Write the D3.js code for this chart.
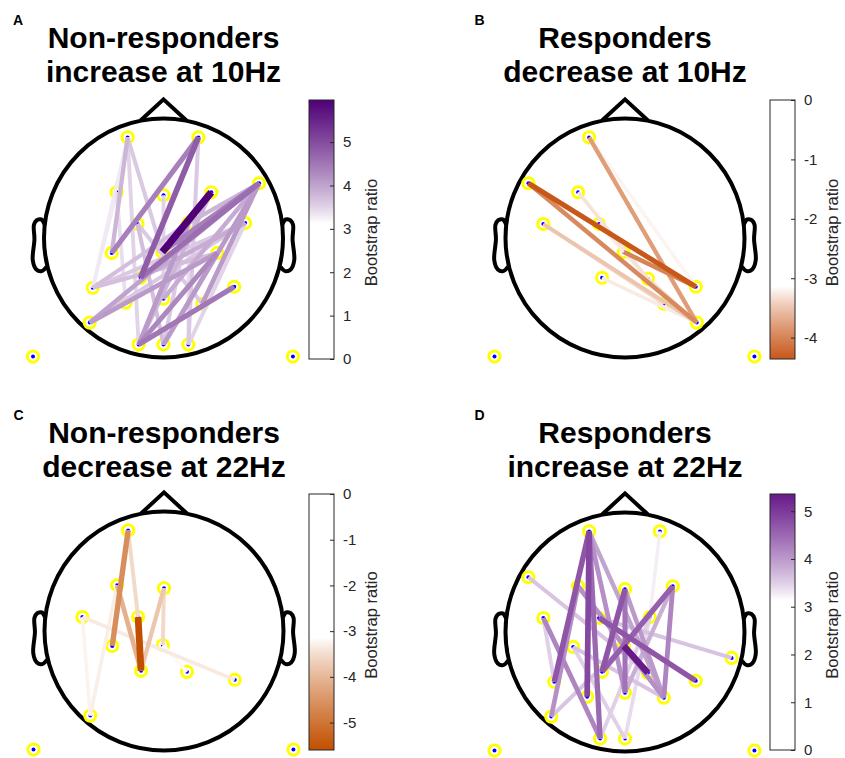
<!DOCTYPE html>
<html>
<head>
<meta charset="utf-8">
<script src="https://cdn.jsdelivr.net/npm/d3@7"></script>
<style>
  body { margin: 0; background: #fff; }
  svg { display: block; }
  text { font-family: "Liberation Sans", Arial, Helvetica, sans-serif; }
</style>
</head>
<body>
<svg id="chart" width="845" height="758"></svg>
<script>
'use strict';

// electrode layout, in head radii (x right, y down), head centre = 0,0
var electrodeNames = ['Fp1', 'Fp2', 'F7', 'F3', 'Fz', 'F4', 'F8', 'FC5', 'FC1', 'FC2', 'FC6',
    'C3', 'Cz', 'C4', 'T8', 'CP5', 'CP1', 'CP2', 'CP6', 'P7', 'P3', 'Pz', 'P4', 'P8',
    'O1', 'Oz', 'O2', 'TP9', 'TP10'];
var electrodeX = [-0.300, 0.292, -0.808, -0.392, 0.000, 0.400, 0.800, -0.683, -0.217, 0.208, 0.683,
    -0.433, -0.010, 0.450, 0.892, -0.592, -0.192, 0.192, 0.592, -0.617, -0.317, 0.000, 0.325, 0.600,
    -0.208, 0.000, 0.208, -1.092, 1.083];
var electrodeY = [-0.842, -0.842, -0.458, -0.383, -0.358, -0.383, -0.458, -0.117, -0.117, -0.125, -0.125,
    0.125, 0.117, 0.125, 0.217, 0.417, 0.333, 0.342, 0.408, 0.708, 0.542, 0.508, 0.550, 0.708,
    0.892, 0.892, 0.892, 0.992, 0.992];
var refElectrodes = ['TP9', 'TP10'];

// connections: [from, to, bootstrap ratio]
var edgesA = [
    ['F4', 'Cz', 5.97], ['Fp2', 'CP1', 4.8], ['Fp2', 'C3', 4.4], ['Fp2', 'O2', 3.6],
    ['Fp1', 'C3', 3.8], ['Fp1', 'Cz', 3.6], ['Fp1', 'CP5', 3.3], ['Fp1', 'O1', 3.5],
    ['F8', 'CP1', 4.6], ['F8', 'Cz', 4.4], ['F8', 'FC2', 3.8], ['F8', 'P4', 4.1], ['F8', 'Oz', 4.1],
    ['CP6', 'O1', 4.5], ['C4', 'P7', 4.1], ['C4', 'O1', 4.3], ['C4', 'Oz', 3.9],
    ['FC6', 'CP5', 3.6], ['FC6', 'O2', 3.5], ['FC2', 'O1', 4.1], ['FC2', 'Oz', 3.6], ['FC2', 'O2', 3.4],
    ['P7', 'F8', 4.0], ['CP5', 'FC2', 3.7], ['CP5', 'F3', 3.3], ['F3', 'P3', 3.4],
    ['Fz', 'Pz', 3.5], ['P3', 'C4', 3.6], ['P4', 'FC1', 3.6], ['FC1', 'Oz', 3.7],
    ['CP5', 'C4', 3.7], ['P7', 'FC6', 3.6], ['CP1', 'FC6', 3.9], ['Pz', 'F8', 3.9], ['O1', 'F4', 3.8]
];
var edgesB = [
    ['F7', 'CP6', -4.36], ['F7', 'P8', -3.95], ['Fp1', 'P8', -3.8], ['Cz', 'CP6', -4.0],
    ['FC5', 'P8', -3.5], ['FC5', 'P4', -3.35], ['F3', 'CP2', -3.3], ['Fp1', 'CP6', -3.2],
    ['CP1', 'P8', -3.25], ['FC1', 'CP2', -3.25], ['CP2', 'P8', -3.35]
];
var edgesC = [
    ['FC1', 'CP1', -5.6], ['Fp1', 'C3', -4.6], ['F3', 'CP1', -4.1], ['Fz', 'CP1', -3.8],
    ['Fz', 'Cz', -3.55], ['Fp1', 'FC1', -3.55], ['FC5', 'CP6', -3.35], ['FC5', 'P7', -3.25],
    ['F3', 'P7', -3.3], ['CP2', 'Cz', -3.2]
];
var edgesD = [
    ['Cz', 'CP2', 5.36], ['Fp1', 'P3', 4.85], ['Fp1', 'CP5', 4.7], ['Fp1', 'O1', 4.5],
    ['Fp1', 'Pz', 4.1], ['Fp1', 'P4', 3.9], ['Fz', 'CP1', 4.7], ['Fz', 'Pz', 4.4], ['Fz', 'P4', 4.0],
    ['F4', 'CP1', 4.6], ['F4', 'P4', 4.2], ['F4', 'Pz', 3.8], ['FC1', 'CP6', 4.7], ['FC5', 'O1', 4.2],
    ['FC5', 'CP5', 3.5], ['F7', 'CP2', 3.6], ['T8', 'FC1', 3.6], ['Fp2', 'FC2', 3.25], ['F3', 'P4', 4.1],
    ['P7', 'Cz', 3.6], ['O1', 'FC2', 3.5], ['Oz', 'FC2', 3.4], ['Oz', 'C3', 3.5], ['C3', 'P4', 3.6],
    ['P7', 'F3', 4.1]
];

var titlesA = ['Non-responders', 'increase at 10Hz'];
var titlesB = ['Responders', 'decrease at 10Hz'];
var titlesC = ['Non-responders', 'decrease at 22Hz'];
var titlesD = ['Responders', 'increase at 22Hz'];

var ticksA = [0, 1, 2, 3, 4, 5];
var ticksB = [0, -1, -2, -3, -4];
var ticksC = [0, -1, -2, -3, -4, -5];
var ticksD = [0, 1, 2, 3, 4, 5];

var threshold = 3.15;
var colorbarLabel = 'Bootstrap ratio';

// head outline (EEGLAB style), in head radii
var earX = [0.994, 1.020, 1.036, 1.060, 1.084, 1.080, 1.094, 1.064, 1.020, 0.978];
var earY = [-0.111, -0.155, -0.157, -0.149, -0.111, 0.011, 0.186, 0.263, 0.277, 0.240];
var noseX = [-0.19, 0, 0.19];
var noseY = [-0.985, -1.16, -0.985];

var panels = [
    { letter: 'A', titles: titlesA, edges: edgesA, ticks: ticksA, cx: 163.5, cy: 238, top: 0,
      cbX: 309, cbTop: 100, cbBottom: 359, endColor: '#4f0076' },
    { letter: 'B', titles: titlesB, edges: edgesB, ticks: ticksB, cx: 625, cy: 238, top: 0,
      cbX: 770, cbTop: 100, cbBottom: 359, endColor: '#c8581a' },
    { letter: 'C', titles: titlesC, edges: edgesC, ticks: ticksC, cx: 164, cy: 631, top: 395,
      cbX: 309, cbTop: 494, cbBottom: 750, endColor: '#c24f00' },
    { letter: 'D', titles: titlesD, edges: edgesD, ticks: ticksD, cx: 625, cy: 632, top: 395,
      cbX: 770, cbTop: 494, cbBottom: 750, endColor: '#671a8a' }
];

var headR = 119.5;
var svg = d3.select('#chart');
var defs = svg.append('defs');

function electrode(name) {
    var i = electrodeNames.indexOf(name);
    return { name: name, x: electrodeX[i], y: electrodeY[i] };
}

var widthScale = d3.scaleLinear().domain([3, 6]).range([3.2, 7.3]).clamp(true);

panels.forEach(function (p, pi) {
    var g = svg.append('g');
    var x = d3.scaleLinear().domain([-1, 1]).range([p.cx - headR, p.cx + headR]);
    var y = d3.scaleLinear().domain([-1, 1]).range([p.cy - headR, p.cy + headR]);

    var values = p.edges.map(function (e) { return e[2]; });
    var negative = d3.min(values) < 0;
    var extreme = negative ? d3.min(values) : d3.max(values);
    var maxAbs = Math.abs(extreme);
    var tScale = d3.scaleLinear().domain([threshold, maxAbs]).range([0, 1]).clamp(true);
    var interp = d3.interpolateRgb('#ffffff', p.endColor);
    function color(v) {
        var a = Math.abs(v);
        return a < threshold ? '#ffffff' : interp(Math.pow(tScale(a), 0.85));
    }

    // panel letter and title
    g.append('text')
        .attr('x', p.cx - 150.5)
        .attr('y', p.top + 25)
        .attr('font-size', 14)
        .attr('font-weight', 'bold')
        .text(p.letter);
    g.selectAll('text.title').data(p.titles).enter().append('text')
        .attr('class', 'title')
        .attr('x', p.cx)
        .attr('y', function (d, i) { return p.top + 48 + i * 34; })
        .attr('text-anchor', 'middle')
        .attr('font-size', 30)
        .attr('font-weight', 'bold')
        .text(function (d) { return d; });

    // head
    var line = d3.line().x(function (d) { return x(d[0]); }).y(function (d) { return y(d[1]); });
    var earPts = earX.map(function (v, i) { return [v, earY[i]]; });
    var head = g.append('g')
        .attr('fill', 'none')
        .attr('stroke', '#000')
        .attr('stroke-width', 4);
    head.append('circle').attr('cx', x(0)).attr('cy', y(0)).attr('r', headR);
    head.append('path').attr('d', line.curve(d3.curveCatmullRom)(earPts));
    head.append('path').attr('d', line(earPts.map(function (d) { return [-d[0], d[1]]; })));
    head.append('path')
        .attr('stroke-linejoin', 'miter')
        .attr('d', line.curve(d3.curveLinear)(noseX.map(function (v, i) { return [v, noseY[i]]; })));

    // electrodes in use
    var used = [];
    p.edges.forEach(function (e) {
        if (used.indexOf(e[0]) < 0) used.push(e[0]);
        if (used.indexOf(e[1]) < 0) used.push(e[1]);
    });
    refElectrodes.forEach(function (n) { if (used.indexOf(n) < 0) used.push(n); });
    var nodes = used.map(electrode);

    var nodeG = g.append('g').selectAll('g').data(nodes).enter().append('g')
        .attr('transform', function (d) { return 'translate(' + x(d.x) + ',' + y(d.y) + ')'; });
    nodeG.append('circle')
        .attr('r', 5.6)
        .attr('fill', '#fff')
        .attr('stroke', '#ffff00')
        .attr('stroke-width', 3);
    nodeG.append('circle')
        .attr('r', 2)
        .attr('fill', '#0000ff');

    // connections, weakest first
    var edges = p.edges.slice().sort(function (a, b) { return Math.abs(a[2]) - Math.abs(b[2]); });
    g.append('g').selectAll('line').data(edges).enter().append('line')
        .attr('x1', function (d) { return x(electrode(d[0]).x); })
        .attr('y1', function (d) { return y(electrode(d[0]).y); })
        .attr('x2', function (d) { return x(electrode(d[1]).x); })
        .attr('y2', function (d) { return y(electrode(d[1]).y); })
        .attr('stroke', function (d) { return color(d[2]); })
        .attr('stroke-width', function (d) { return widthScale(Math.abs(d[2])); })
        .attr('stroke-linecap', 'butt');

    // colour bar
    var domain = negative ? [extreme, 0] : [0, extreme];
    var cbY = d3.scaleLinear().domain(domain).range([p.cbBottom, p.cbTop]);
    var gradId = 'grad' + pi;
    var grad = defs.append('linearGradient')
        .attr('id', gradId)
        .attr('x1', 0).attr('y1', 1).attr('x2', 0).attr('y2', 0);
    grad.selectAll('stop').data(d3.range(0, 1.0001, 0.01)).enter().append('stop')
        .attr('offset', function (o) { return o; })
        .attr('stop-color', function (o) { return color(domain[0] + (domain[1] - domain[0]) * o); });
    var cbW = 25;
    g.append('rect')
        .attr('x', p.cbX).attr('y', p.cbTop)
        .attr('width', cbW).attr('height', p.cbBottom - p.cbTop)
        .attr('fill', 'url(#' + gradId + ')')
        .attr('stroke', '#262626')
        .attr('stroke-width', 1);
    var axis = d3.axisRight(cbY)
        .tickValues(p.ticks)
        .tickSize(-4)
        .tickPadding(9)
        .tickFormat(function (d) { return String(d); });
    var ag = g.append('g')
        .attr('transform', 'translate(' + (p.cbX + cbW) + ',0)')
        .call(axis);
    ag.select('.domain').remove();
    ag.selectAll('line').attr('stroke', '#262626');
    ag.selectAll('text')
        .attr('fill', '#262626')
        .attr('font-size', 15)
        .attr('font-family', '"Liberation Sans", Arial, sans-serif');
    g.append('text')
        .attr('transform', 'translate(' + (p.cbX + cbW + 43) + ',' + ((p.cbTop + p.cbBottom) / 2 + 3) + ') rotate(-90)')
        .attr('text-anchor', 'middle')
        .attr('font-size', 16.5)
        .attr('fill', '#262626')
        .text(colorbarLabel);
});
</script>
</body>
</html>
